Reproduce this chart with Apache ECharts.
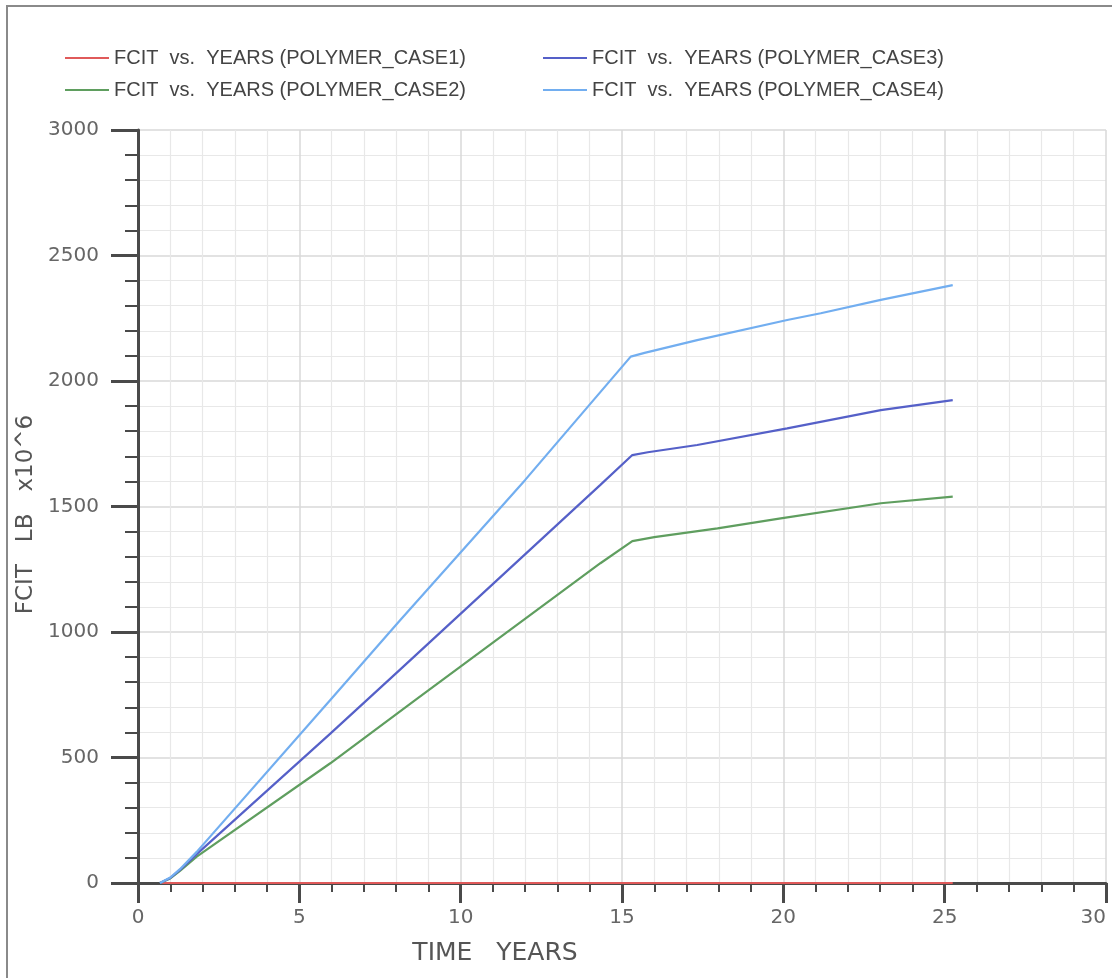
<!DOCTYPE html>
<html>
<head>
<meta charset="utf-8">
<title>FCIT vs. YEARS</title>
<script src="https://cdn.jsdelivr.net/npm/echarts@6/dist/echarts.min.js"></script>
<style>
  html, body { margin: 0; padding: 0; background: #ffffff; overflow: hidden; }
  #chart { width: 1112px; height: 978px; }
</style>
</head>
<body>
<div id="chart"></div>
<script>
// Cumulative FCIT (LB x10^6) against time in years for four polymer cases
const years1 = [0.68, 5, 10, 15.3, 20, 25.25];
const fcit1  = [0, 0, 0, 0, 0, 0];

const years2 = [0.68, 1.0, 1.3, 1.82, 5.96, 8.59, 14.33, 15.32, 16.0, 17.96, 19.92, 23.02, 25.25];
const fcit2  = [0, 18, 48, 105, 477, 729, 1274, 1362, 1378, 1413, 1453, 1513, 1539];

const years3 = [0.68, 1.0, 1.3, 1.82, 5.96, 8.13, 14.33, 15.32, 15.8, 17.33, 20.12, 23.02, 25.25];
const fcit3  = [0, 20, 52, 115, 595, 851, 1586, 1705, 1716, 1745, 1811, 1884, 1924];

const years4 = [0.68, 1.0, 1.3, 1.82, 5.96, 8.13, 12.0, 15.27, 15.7, 17.33, 20.12, 21.16, 23.02, 25.25];
const fcit4  = [0, 22, 55, 124, 729, 1048, 1606, 2097, 2112, 2163, 2243, 2270, 2323, 2382];

const seriesNames = [
  'FCIT  vs.  YEARS (POLYMER_CASE1)',
  'FCIT  vs.  YEARS (POLYMER_CASE2)',
  'FCIT  vs.  YEARS (POLYMER_CASE3)',
  'FCIT  vs.  YEARS (POLYMER_CASE4)'
];
const seriesColors = ['#e05a5a', '#5f9e5f', '#5560c8', '#72aef0'];

const xTicks = { min: 0, max: 30, interval: 5 };
const yTicks = { min: 0, max: 3000, interval: 500 };

const pairs = (xs, ys) => xs.map((x, i) => [x, ys[i]]);
const allData = [
  pairs(years1, fcit1),
  pairs(years2, fcit2),
  pairs(years3, fcit3),
  pairs(years4, fcit4)
];

const axisColor = '#4a4a4a';
const labelFont = 'DejaVu Sans';

const el = document.getElementById('chart');
const chart = echarts.init(el, null, { renderer: 'canvas', width: 1112, height: 978 });

const legendText = {
  fontFamily: 'Liberation Sans',
  fontSize: 20,
  color: '#444444',
  lineHeight: 20
};

chart.setOption({
  backgroundColor: '#ffffff',
  animation: false,
  legend: [
    {
      data: [seriesNames[0], seriesNames[1]],
      orient: 'vertical',
      left: 60,
      top: 43,
      icon: 'rect',
      itemWidth: 44,
      itemHeight: 2,
      itemGap: 12,
      textStyle: legendText
    },
    {
      data: [seriesNames[2], seriesNames[3]],
      orient: 'vertical',
      left: 538,
      top: 43,
      icon: 'rect',
      itemWidth: 44,
      itemHeight: 2,
      itemGap: 12,
      textStyle: legendText
    }
  ],
  grid: {
    left: 138,
    right: 6,
    top: 130,
    bottom: 95,
    containLabel: false,
    outerBoundsMode: 'none'
  },
  xAxis: {
    type: 'value',
    min: xTicks.min,
    max: xTicks.max,
    interval: xTicks.interval,
    name: 'TIME   YEARS',
    nameLocation: 'middle',
    nameGap: 58,
    nameTextStyle: {
      fontFamily: labelFont,
      fontSize: 25,
      color: '#555555',
      padding: [0, 254, 0, 0]
    },
    axisLine: { show: true, onZero: false, lineStyle: { color: axisColor, width: 3 } },
    axisTick: { show: true, inside: false, length: 20, lineStyle: { color: axisColor, width: 3 } },
    minorTick: { show: true, splitNumber: 5, length: 9, lineStyle: { color: axisColor, width: 2 } },
    axisLabel: {
      margin: 25,
      fontFamily: labelFont,
      fontSize: 20,
      color: '#666666',
      alignMaxLabel: 'right'
    },
    splitLine: { show: true, lineStyle: { color: '#d9d9d9', width: 1.5 } },
    minorSplitLine: { show: true, lineStyle: { color: '#e8e8e8', width: 1.2 } }
  },
  yAxis: {
    type: 'value',
    min: yTicks.min,
    max: yTicks.max,
    interval: yTicks.interval,
    name: 'FCIT   LB   x10^6',
    nameLocation: 'middle',
    nameGap: 90,
    nameTextStyle: {
      fontFamily: labelFont,
      fontSize: 23,
      color: '#555555',
      padding: [0, 16, 0, 0]
    },
    axisLine: { show: true, onZero: false, lineStyle: { color: axisColor, width: 3 } },
    axisTick: { show: true, inside: false, length: 27, lineStyle: { color: axisColor, width: 3 } },
    minorTick: { show: true, splitNumber: 5, length: 13, lineStyle: { color: axisColor, width: 2 } },
    axisLabel: {
      margin: 39,
      fontFamily: labelFont,
      fontSize: 20,
      color: '#666666',
      formatter: (v) => String(v)
    },
    splitLine: { show: true, lineStyle: { color: '#d9d9d9', width: 1.5 } },
    minorSplitLine: { show: true, lineStyle: { color: '#e8e8e8', width: 1.2 } }
  },
  graphic: [
    {
      type: 'polyline',
      silent: true,
      shape: { points: [[7, 978], [7, 6], [1112, 6]] },
      style: { stroke: '#8a8a8a', lineWidth: 2, fill: null }
    }
  ],
  series: allData.map((d, i) => ({
    name: seriesNames[i],
    type: 'line',
    data: d,
    showSymbol: false,
    symbol: 'none',
    clip: false,
    smooth: false,
    color: seriesColors[i],
    lineStyle: { color: seriesColors[i], width: 2.2 },
    z: 3
  }))
});
</script>
</body>
</html>
